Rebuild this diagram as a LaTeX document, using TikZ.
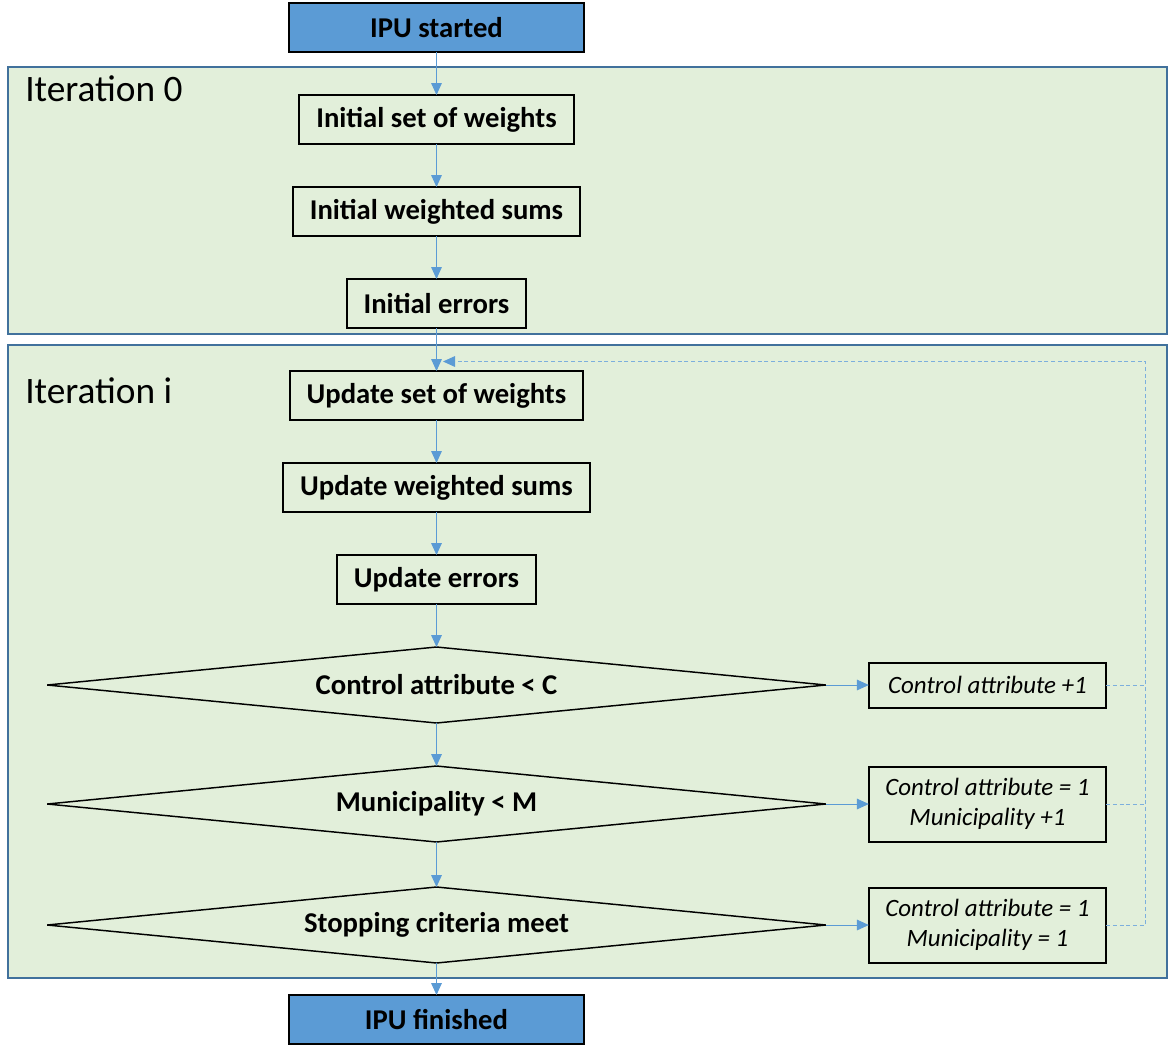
\documentclass[tikz,border=0pt]{standalone}
\usepackage{fontspec}
\setmainfont{Carlito}
\usepackage{xcolor}
\usepackage{tikz}
\usetikzlibrary{arrows.meta, positioning, shapes.geometric}

\definecolor{ipublue}{HTML}{5B9BD5}
\definecolor{framegreen}{HTML}{E2EFDA}
\definecolor{frameline}{HTML}{41719C}

\begin{document}
\begin{tikzpicture}[
			x=0.75pt, y=-0.75pt,
			box/.style={draw, line width=1.5pt, rectangle, inner xsep=12.75pt, minimum height=36.75pt, outer sep=0pt, font=\fontsize{21.5}{25}\selectfont\bfseries},
			endbox/.style={box, fill=ipublue, minimum width=221pt},
			decision/.style={draw, line width=1.1pt, diamond, aspect=10, inner sep=0pt, minimum width=584pt, minimum height=57pt, outer sep=0pt, font=\fontsize{21.5}{25}\selectfont\bfseries},
			action/.style={draw, line width=1.5pt, rectangle, minimum width=178pt, align=center, outer sep=0pt, font=\fontsize{18.7}{22.5}\selectfont\itshape},
			frame/.style={fill=framegreen, draw=frameline, line width=1.5pt},
			label/.style={anchor=base west, inner sep=0pt, font=\fontsize{28}{32}\selectfont},
			arrow/.style={ipublue, line width=0.75pt, -{Triangle[length=9pt, width=8pt]}},
			feedback/.style={ipublue!80, line width=0.75pt, dash pattern=on 3pt off 2pt},
			node distance=32.25pt
		]

		\useasboundingbox (0,0) rectangle (1169,1053);

		% Draw the frames
		\draw[frame] (8,67) rectangle (1167,334);
		\draw[frame] (8,345) rectangle (1167,978);
		\node[label] (iter0) at (25,101) {Iteration 0};
		\node[label] (iteri) at (25,403) {Iteration i};

		% Draw the boxes
		\node[endbox] (start) at (436.5,27.5) {IPU started};
		\node[box, below=of start] (weights0) {Initial set of weights};
		\node[box, below=of weights0] (sums0) {Initial weighted sums};
		\node[box, below=of sums0] (errors0) {Initial errors};
		\node[box, below=of errors0] (weights) {Update set of weights};
		\node[box, below=of weights] (sums) {Update weighted sums};
		\node[box, below=of sums] (errors) {Update errors};
		\node[decision, below=of errors] (control) {Control attribute < C};
		\node[decision, below=of control] (municip) {Municipality < M};
		\node[decision, below=33.75pt of municip] (stopping) {Stopping criteria meet};
		\node[endbox, below=24pt of stopping] (finish) {IPU finished};

		\node[action, minimum height=33.75pt, right=32.25pt of control] (nextctrl) {Control attribute +1};
		\node[action, minimum height=56.25pt, right=32.25pt of municip] (nextmun) {Control attribute = 1\\Municipality +1};
		\node[action, minimum height=56.25pt, right=32.25pt of stopping] (reset) {Control attribute = 1\\Municipality = 1};

		\coordinate (back) at (1145.5,361.5);
		\coordinate (loopin) at (443,361.5);

		% Draw the arrows
		\draw[arrow] (start) -- (weights0);
		\draw[arrow] (weights0) -- (sums0);
		\draw[arrow] (sums0) -- (errors0);
		\draw[arrow] (errors0) -- (weights);
		\draw[arrow] (weights) -- (sums);
		\draw[arrow] (sums) -- (errors);
		\draw[arrow] (errors) -- (control);
		\draw[arrow] (control) -- (municip);
		\draw[arrow] (municip) -- (stopping);
		\draw[arrow] (stopping) -- (finish);
		\draw[arrow] (control.east) -- (nextctrl.west);
		\draw[arrow] (municip.east) -- (nextmun.west);
		\draw[arrow] (stopping.east) -- (reset.west);

		% Feedback loop
		\draw[feedback] (reset.east) -| (back) -- (loopin);
		\draw[ipublue, line width=0.75pt, -{Triangle[length=9pt, width=8pt]}] ([xshift=3pt]loopin) -- (loopin);
		\draw[feedback] (nextctrl.east) -- (nextctrl.east -| back);
		\draw[feedback] (nextmun.east) -- (nextmun.east -| back);

		\end{tikzpicture}
\end{document}
